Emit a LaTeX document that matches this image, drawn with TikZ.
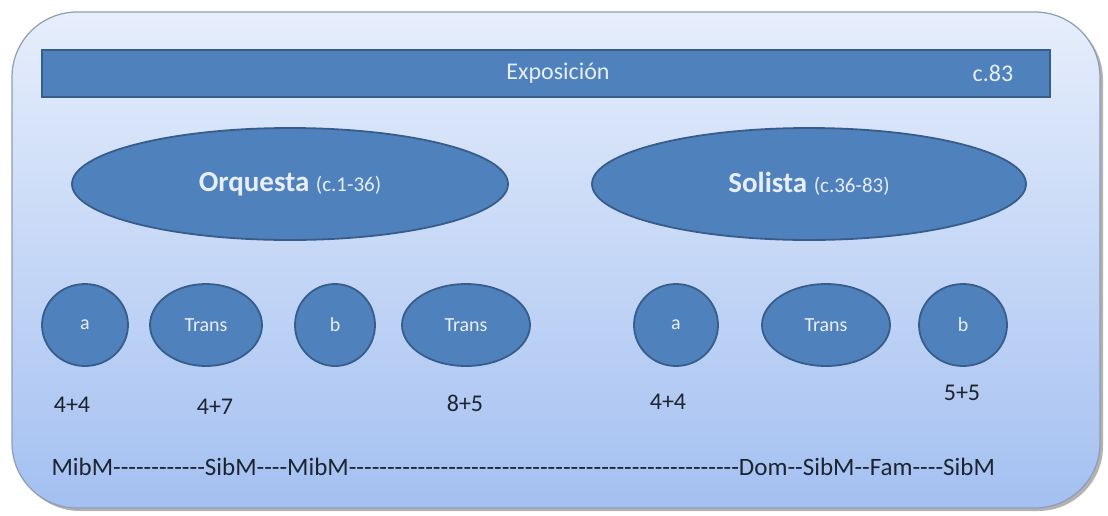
\documentclass[tikz,border=0pt]{standalone}
\usepackage{fontspec}
\setmainfont{Carlito}[Ligatures=TeXOff]
\usetikzlibrary{shapes.geometric,positioning}

\definecolor{boxtop}{HTML}{E6EEFB}
\definecolor{boxbot}{HTML}{A4C0F1}
\definecolor{boxline}{HTML}{8E9DB4}
\definecolor{accent}{HTML}{4F81BD}
\definecolor{accentline}{HTML}{385D8A}
\definecolor{lighttext}{HTML}{E8EEF7}
\definecolor{darktext}{HTML}{1C2430}

\begin{document}
\begin{tikzpicture}[x=1pt,y=-1pt,thin]
\tikzstyle{part}=[ellipse,fill=accent,draw=accentline,line width=1.8pt,text=lighttext,inner sep=0pt]
\tikzstyle{theme}=[part,minimum height=82pt,font=\fontsize{20}{24}\selectfont]
\tikzstyle{bars}=[text=darktext,font=\fontsize{24}{28}\selectfont]

\useasboundingbox (0,0) rectangle (1108,515);

% fondo
\fill[black!30,rounded corners=65pt] (15,15) rectangle (1103,511);
\shadedraw[top color=boxtop,bottom color=boxbot,draw=boxline,line width=1.2pt,rounded corners=65pt] (12,12) rectangle (1100,508);

% exposicion
\node[fill=accent,draw=accentline,line width=1.8pt,minimum width=1008pt,minimum height=47pt,inner sep=0pt,text=lighttext,font=\fontsize{24}{28}\selectfont] (expo) at (546,73.5) {\hspace*{24pt}Exposición};
\node[text=lighttext,font=\fontsize{24}{28}\selectfont,left=58pt of expo.east,anchor=center] (c83) {c.83};

% orquesta y solista
\node[part,minimum width=436pt,minimum height=112pt] (orq) at (290,184)
  {\fontsize{29}{34}\selectfont\bfseries Orquesta \mdseries\fontsize{21}{25}\selectfont(c.1-36)};
\node[part,minimum width=434pt,minimum height=112pt] (sol) at (809,184)
  {\fontsize{29}{34}\selectfont\bfseries Solista \mdseries\fontsize{21}{25}\selectfont(c.36-83)};

% temas
\node[theme,minimum width=86pt]  (a1) at (85,325)  {a};
\node[theme,minimum width=112pt] (t1) at (206,325) {Trans};
\node[theme,minimum width=80pt]  (b1) at (335,325) {b};
\node[theme,minimum width=128pt] (t2) at (466,325) {Trans};
\node[theme,minimum width=84pt]  (a2) at (676,325) {a};
\node[theme,minimum width=128pt] (t3) at (826,325) {Trans};
\node[theme,minimum width=88pt]  (b2) at (963,325) {b};

% compases
\node[bars] (n1) at (72,405)  {4+4};
\node[bars] (n2) at (215,407) {4+7};
\node[bars] (n3) at (465,403) {8+5};
\node[bars] (n4) at (668,402) {4+4};
\node[bars] (n5) at (962,393) {5+5};

% tonalidades
\node[bars,anchor=west,font=\fontsize{25}{30}\selectfont] (keys) at (48,467)
  {MibM------------SibM----MibM---------------------------------------------------Dom--SibM--Fam----SibM};
\end{tikzpicture}
\end{document}
